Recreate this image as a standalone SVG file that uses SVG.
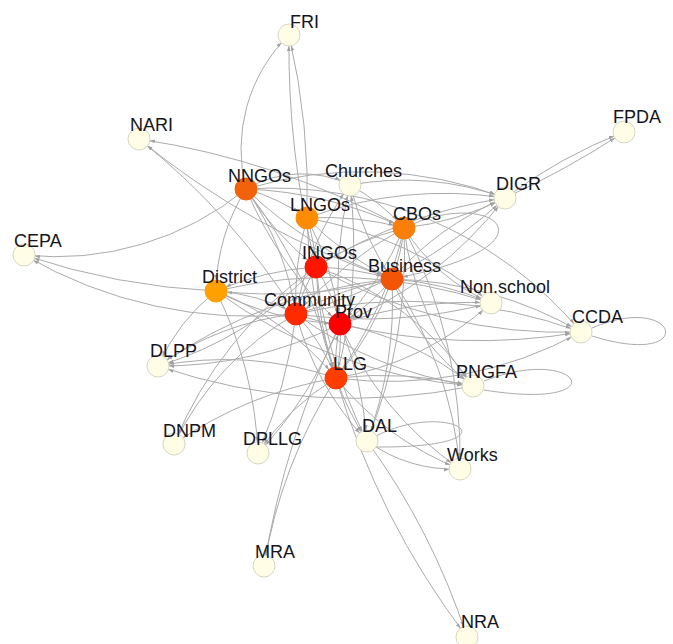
<svg xmlns="http://www.w3.org/2000/svg" width="673" height="644" viewBox="0 0 673 644">
<style>
.e{fill:none;stroke:#ababab;stroke-width:1;marker-end:url(#a)}
.l{fill:none;stroke:#ababab;stroke-width:1}
.n{stroke-width:1}
.c{fill:#fffde6;stroke:#d6d6c2}
text{font-family:"Liberation Sans",Arial,sans-serif;font-size:18px;fill:#141420}
</style>
<defs>
<marker id="a" markerUnits="userSpaceOnUse" markerWidth="20" markerHeight="10" viewBox="0 0 20 10" refX="16" refY="5" orient="auto"><path d="M0,3.2 L5,5 L0,6.8 z" fill="#a0a0a0"/></marker>
</defs>
<rect width="673" height="644" fill="#fff"/>
<g id="edges">
<path class="e" d="M246,189 A160,160 0 0 1 289,35"/>
<path class="e" d="M307,218 A700,700 0 0 0 289,35"/>
<path class="e" d="M316,267 A900,900 0 0 1 289,35"/>
<path class="e" d="M296,314 A700,700 0 0 0 139,139"/>
<path class="e" d="M392,279 A800,800 0 0 1 139,139"/>
<path class="e" d="M404,228 A800,800 0 0 0 139,139"/>
<path class="e" d="M505,198 A900,900 0 0 0 624,132"/>
<path class="e" d="M505,198 A500,500 0 0 1 624,132"/>
<path class="e" d="M246,189 A300,300 0 0 1 24,255"/>
<path class="e" d="M216,291 A700,700 0 0 1 24,255"/>
<path class="e" d="M296,314 A450,450 0 0 1 24,255"/>
<path class="e" d="M216,291 A200,200 0 0 0 158,366"/>
<path class="e" d="M296,314 A300,300 0 0 0 158,366"/>
<path class="e" d="M340,324 A400,400 0 0 1 158,366"/>
<path class="e" d="M336,378 A350,350 0 0 0 158,366"/>
<path class="e" d="M392,279 A500,500 0 0 0 158,366"/>
<path class="e" d="M316,267 A350,350 0 0 1 158,366"/>
<path class="e" d="M473,386 A600,600 0 0 1 158,366"/>
<path class="e" d="M296,314 A300,300 0 0 0 174,444"/>
<path class="e" d="M316,267 A400,400 0 0 0 174,444"/>
<path class="e" d="M336,378 A400,400 0 0 0 174,444"/>
<path class="e" d="M296,314 A500,500 0 0 1 258,453"/>
<path class="e" d="M336,378 A250,250 0 0 0 258,453"/>
<path class="e" d="M340,324 A400,400 0 0 1 258,453"/>
<path class="e" d="M216,291 A400,400 0 0 1 258,453"/>
<path class="e" d="M336,378 A300,300 0 0 0 367,441"/>
<path class="e" d="M340,324 A400,400 0 0 1 367,441"/>
<path class="e" d="M316,267 A500,500 0 0 0 367,441"/>
<path class="e" d="M392,279 A400,400 0 0 1 367,441"/>
<path class="e" d="M296,314 A300,300 0 0 0 367,441"/>
<path class="e" d="M404,228 A500,500 0 0 1 367,441"/>
<path class="l" d="M376,436 C450,398 525,448 376,447"/>
<path class="e" d="M392,279 A400,400 0 0 1 460,469"/>
<path class="e" d="M340,324 A350,350 0 0 0 460,469"/>
<path class="e" d="M404,228 A500,500 0 0 1 460,469"/>
<path class="e" d="M336,378 A300,300 0 0 0 460,469"/>
<path class="e" d="M367,441 A150,150 0 0 0 460,469"/>
<path class="e" d="M336,378 A500,500 0 0 0 264,566"/>
<path class="e" d="M340,324 A900,900 0 0 0 264,566"/>
<path class="e" d="M336,378 A800,800 0 0 0 467,637"/>
<path class="e" d="M367,441 A700,700 0 0 1 467,637"/>
<path class="l" d="M484,381 C580,343 620,412 484,390"/>
<path class="e" d="M336,378 A400,400 0 0 1 473,386"/>
<path class="e" d="M340,324 A300,300 0 0 1 473,386"/>
<path class="e" d="M296,314 A400,400 0 0 0 473,386"/>
<path class="e" d="M316,267 A300,300 0 0 1 473,386"/>
<path class="e" d="M392,279 A250,250 0 0 0 473,386"/>
<path class="e" d="M404,228 A300,300 0 0 0 473,386"/>
<path class="e" d="M216,291 A500,500 0 0 0 473,386"/>
<path class="l" d="M592,328 C680,290 700,370 592,336"/>
<path class="e" d="M392,279 A400,400 0 0 1 581,332"/>
<path class="e" d="M340,324 A600,600 0 0 0 581,332"/>
<path class="e" d="M296,314 A500,500 0 0 1 581,332"/>
<path class="e" d="M316,267 A500,500 0 0 0 581,332"/>
<path class="e" d="M246,189 A400,400 0 0 1 581,332"/>
<path class="e" d="M336,378 A400,400 0 0 0 581,332"/>
<path class="e" d="M392,279 A300,300 0 0 1 491,303"/>
<path class="e" d="M340,324 A400,400 0 0 1 491,303"/>
<path class="e" d="M296,314 A500,500 0 0 0 491,303"/>
<path class="e" d="M404,228 A200,200 0 0 0 491,303"/>
<path class="e" d="M336,378 A300,300 0 0 0 491,303"/>
<path class="e" d="M216,291 A500,500 0 0 1 491,303"/>
<path class="e" d="M307,218 A400,400 0 0 1 491,303"/>
<path class="e" d="M404,228 A300,300 0 0 0 505,198"/>
<path class="e" d="M392,279 A300,300 0 0 1 505,198"/>
<path class="e" d="M340,324 A400,400 0 0 0 505,198"/>
<path class="e" d="M316,267 A500,500 0 0 1 505,198"/>
<path class="e" d="M307,218 A400,400 0 0 1 505,198"/>
<path class="e" d="M350,185 A300,300 0 0 1 505,198"/>
<path class="e" d="M246,189 A400,400 0 0 1 505,198"/>
<path class="e" d="M296,314 A500,500 0 0 0 505,198"/>
<path class="e" d="M246,189 A110,110 0 0 1 350,185"/>
<path class="e" d="M350,185 A200,200 0 0 1 404,228"/>
<path class="e" d="M350,185 A300,300 0 0 0 392,279"/>
<path class="e" d="M340,324 A400,400 0 0 1 350,185"/>
<path class="e" d="M336,378 A500,500 0 0 0 350,185"/>
<path class="e" d="M296,314 A300,300 0 0 1 350,185"/>
<path class="e" d="M404,228 C490,185 570,245 392,279"/>
<path class="e" d="M246,189 A200,200 0 0 1 307,218"/>
<path class="e" d="M246,189 A300,300 0 0 0 316,267"/>
<path class="e" d="M246,189 A300,300 0 0 1 296,314"/>
<path class="e" d="M246,189 A400,400 0 0 0 340,324"/>
<path class="e" d="M246,189 A500,500 0 0 1 336,378"/>
<path class="e" d="M246,189 A400,400 0 0 0 392,279"/>
<path class="e" d="M246,189 A400,400 0 0 1 404,228"/>
<path class="e" d="M246,189 A200,200 0 0 0 216,291"/>
<path class="e" d="M307,218 A200,200 0 0 1 316,267"/>
<path class="e" d="M307,218 A300,300 0 0 1 404,228"/>
<path class="e" d="M307,218 A300,300 0 0 0 392,279"/>
<path class="e" d="M307,218 A300,300 0 0 0 296,314"/>
<path class="e" d="M307,218 A300,300 0 0 1 340,324"/>
<path class="e" d="M307,218 A500,500 0 0 0 336,378"/>
<path class="e" d="M404,228 A200,200 0 0 1 392,279"/>
<path class="e" d="M404,228 A300,300 0 0 0 316,267"/>
<path class="e" d="M404,228 A300,300 0 0 1 340,324"/>
<path class="e" d="M404,228 A400,400 0 0 0 296,314"/>
<path class="e" d="M404,228 A400,400 0 0 1 336,378"/>
<path class="e" d="M316,267 A300,300 0 0 1 392,279"/>
<path class="e" d="M316,267 A200,200 0 0 0 296,314"/>
<path class="e" d="M316,267 A200,200 0 0 1 340,324"/>
<path class="e" d="M316,267 A400,400 0 0 0 336,378"/>
<path class="e" d="M316,267 A300,300 0 0 0 216,291"/>
<path class="e" d="M392,279 A200,200 0 0 1 340,324"/>
<path class="e" d="M392,279 A300,300 0 0 0 296,314"/>
<path class="e" d="M392,279 A300,300 0 0 1 336,378"/>
<path class="e" d="M392,279 A500,500 0 0 1 216,291"/>
<path class="e" d="M216,291 A200,200 0 0 1 296,314"/>
<path class="e" d="M216,291 A300,300 0 0 0 340,324"/>
<path class="e" d="M216,291 A300,300 0 0 1 336,378"/>
<path class="e" d="M296,314 A150,150 0 0 0 340,324"/>
<path class="e" d="M296,314 A200,200 0 0 1 336,378"/>
<path class="e" d="M340,324 A200,200 0 0 1 336,378"/>
<path class="e" d="M336,378 A200,200 0 0 1 340,324"/>
</g>
<g id="FRI"><circle class="n c" cx="289" cy="35" r="11"/><text x="290" y="28">FRI</text></g>
<g id="NARI"><circle class="n c" cx="139" cy="139" r="11"/><text x="130" y="131">NARI</text></g>
<g id="FPDA"><circle class="n c" cx="624" cy="132" r="11"/><text x="613" y="123">FPDA</text></g>
<g id="Churches"><circle class="n c" cx="350" cy="185" r="11"/><text x="325" y="177">Churches</text></g>
<g id="DIGR"><circle class="n c" cx="505" cy="198" r="11"/><text x="496" y="190">DIGR</text></g>
<g id="CEPA"><circle class="n c" cx="24" cy="255" r="11"/><text x="14" y="247">CEPA</text></g>
<g id="Nonschool"><circle class="n c" cx="491" cy="303" r="11"/><text x="460" y="293">Non.school</text></g>
<g id="CCDA"><circle class="n c" cx="581" cy="332" r="11"/><text x="572" y="323">CCDA</text></g>
<g id="DLPP"><circle class="n c" cx="158" cy="366" r="11"/><text x="150" y="357">DLPP</text></g>
<g id="PNGFA"><circle class="n c" cx="473" cy="386" r="11"/><text x="456" y="378">PNGFA</text></g>
<g id="DNPM"><circle class="n c" cx="174" cy="444" r="11"/><text x="163" y="437">DNPM</text></g>
<g id="DPLLG"><circle class="n c" cx="258" cy="453" r="11"/><text x="243" y="445">DPLLG</text></g>
<g id="DAL"><circle class="n c" cx="367" cy="441" r="11"/><text x="362" y="432">DAL</text></g>
<g id="Works"><circle class="n c" cx="460" cy="469" r="11"/><text x="447" y="461">Works</text></g>
<g id="MRA"><circle class="n c" cx="264" cy="566" r="11"/><text x="255" y="558">MRA</text></g>
<g id="NRA"><circle class="n c" cx="467" cy="637" r="11"/><text x="461" y="628">NRA</text></g>
<g id="NNGOs"><circle class="n" cx="246" cy="189" r="11" fill="#f2620a" stroke="#f2620a"/><text x="228" y="182">NNGOs</text></g>
<g id="LNGOs"><circle class="n" cx="307" cy="218" r="11" fill="#ff8c00" stroke="#ff8c00"/><text x="290" y="211">LNGOs</text></g>
<g id="CBOs"><circle class="n" cx="404" cy="228" r="11" fill="#f77f0a" stroke="#f77f0a"/><text x="393" y="220">CBOs</text></g>
<g id="INGOs"><circle class="n" cx="316" cy="267" r="11" fill="#ff1600" stroke="#ff1600"/><text x="302" y="259">INGOs</text></g>
<g id="Business"><circle class="n" cx="392" cy="279" r="11" fill="#f25408" stroke="#f25408"/><text x="368" y="272">Business</text></g>
<g id="District"><circle class="n" cx="216" cy="291" r="11" fill="#ffa000" stroke="#ffa000"/><text x="202" y="283">District</text></g>
<g id="Community"><circle class="n" cx="296" cy="314" r="11" fill="#ff2a00" stroke="#ff2a00"/><text x="264" y="306">Community</text></g>
<g id="Prov"><circle class="n" cx="340" cy="324" r="11" fill="#ff0000" stroke="#ff0000"/><text x="335" y="318">Prov</text></g>
<g id="LLG"><circle class="n" cx="336" cy="378" r="11" fill="#ff3d00" stroke="#ff3d00"/><text x="333" y="370">LLG</text></g>
</svg>
